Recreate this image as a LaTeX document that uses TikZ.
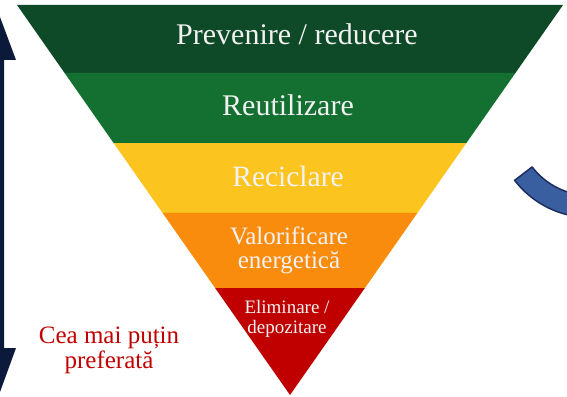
\documentclass[tikz,border=0pt]{standalone}
\usepackage{fontspec}
\setmainfont{Liberation Serif}
\usetikzlibrary{calc}

\definecolor{dkgreen}{HTML}{0E4A28}
\definecolor{midgreen}{HTML}{137030}
\definecolor{wasteyellow}{HTML}{FCC41F}
\definecolor{wasteorange}{HTML}{FA8C0D}
\definecolor{wastered}{HTML}{C00000}
\definecolor{navy}{HTML}{0B1A3B}
\definecolor{arrowblue}{HTML}{3A5FA0}
\definecolor{arrowline}{HTML}{1C2F5E}

\begin{document}
\begin{tikzpicture}[x=1pt, y=-1pt,
    level/.style={text=white!95!black, anchor=base, align=center},
    note/.style={text=wastered, anchor=base, align=center}]
  \useasboundingbox (0,0) rectangle (567,396);
  \clip (0,0) rectangle (567,396);

  % corners of the inverted pyramid
  \coordinate (tl) at (17,5);
  \coordinate (tr) at (563,5);
  \coordinate (ap) at (290,395);

  % bands, top to bottom
  \foreach \a/\b/\c in {0/0.174/dkgreen, 0.174/0.354/midgreen,
      0.354/0.533/wasteyellow, 0.533/0.726/wasteorange, 0.726/1/wastered}
    \fill[\c] ($(tl)!\a!(ap)$) -- ($(tr)!\a!(ap)$) -- ($(tr)!\b!(ap)$) -- ($(tl)!\b!(ap)$) -- cycle;

  % labels (base = last line)
  \node[level, font=\fontsize{30}{34}\selectfont] (prev) at (297,45) {Prevenire / reducere};
  \node[level, font=\fontsize{30}{34}\selectfont] (reut) at (288,115) {Reutilizare};
  \node[level, font=\fontsize{29.5}{34}\selectfont] (recic) at (288,186) {Reciclare};
  \node[level, font=\fontsize{25}{24}\selectfont] (valor) at (289,268) {Valorificare\\energetică};
  \node[level, font=\fontsize{19}{20}\selectfont] (elim) at (287,333) {Eliminare /\\depozitare};
  \node[note, font=\fontsize{25}{25}\selectfont] (least) at (109,368) {Cea mai puțin\\preferată};

  % double arrow on the left edge
  \fill[navy] (-10,0) -- (0,17) -- (16,60) -- (4,60) -- (4,348) -- (16,348)
    -- (0,392) -- (-10,396) -- cycle;

  % curved arrow on the right
  \coordinate (c) at (590,122.5);
  \filldraw[fill=arrowblue, draw=arrowline, line width=1.5pt, line join=round]
    ($(c)+(142.5:95)$) arc[start angle=142.5, end angle=95, radius=95]
    -- ($(c)+(95:73)$) arc[start angle=95, end angle=142.5, radius=73] -- cycle;
\end{tikzpicture}
\end{document}
